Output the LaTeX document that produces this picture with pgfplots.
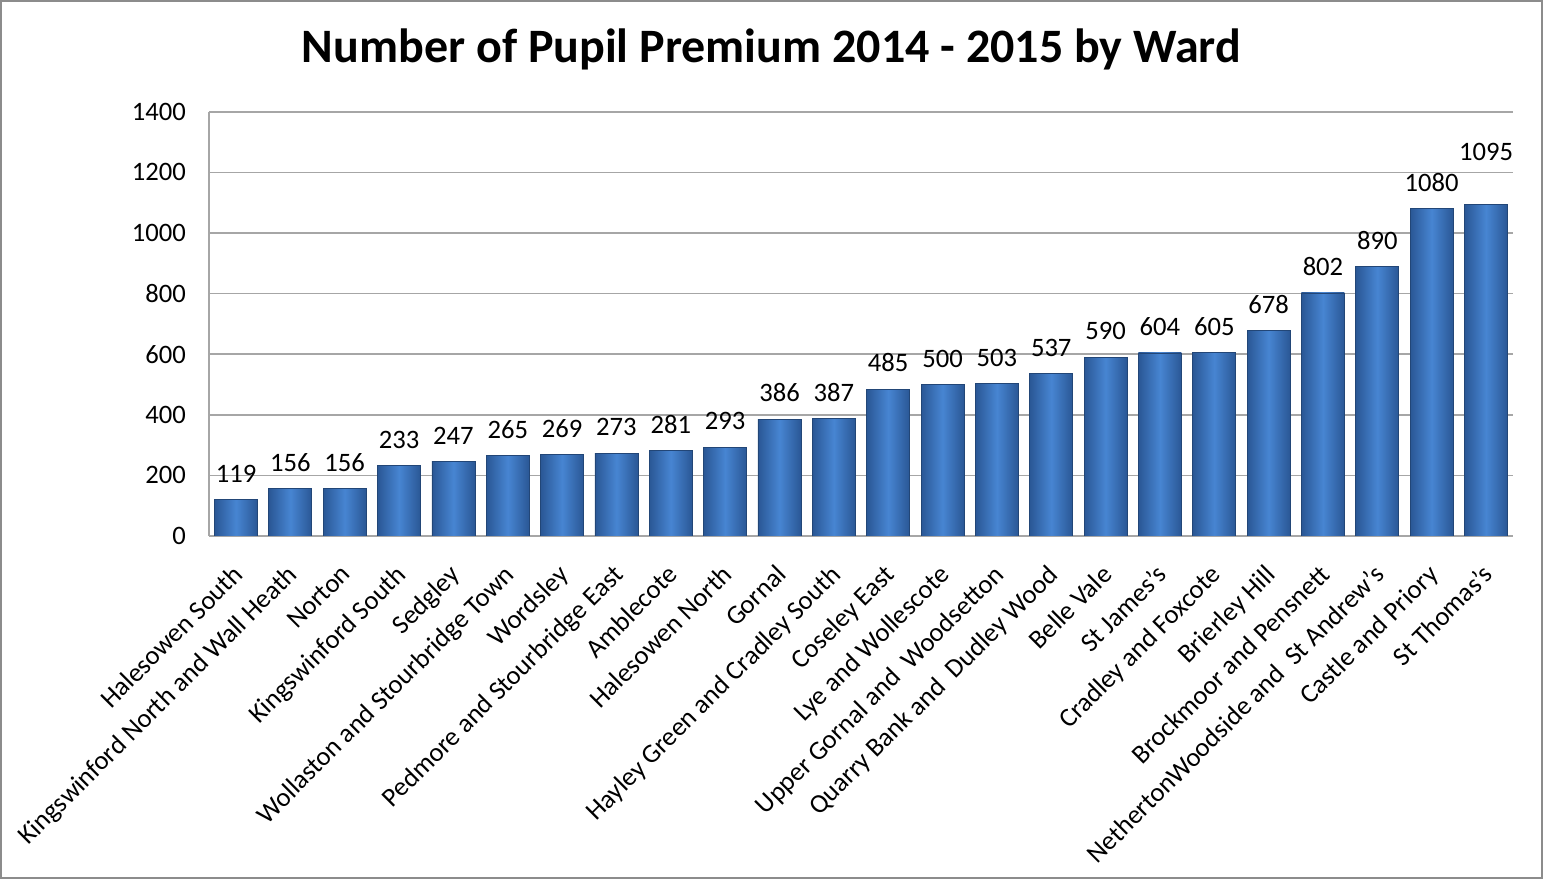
\documentclass[border=0pt]{standalone}
\usepackage{fontspec}
\setmainfont{Carlito}
\usepackage{pgfplots}
\pgfplotsset{compat=1.18}

\definecolor{barmid}{HTML}{4785D2}
\definecolor{baredge}{HTML}{2A5795}
\definecolor{gridgray}{HTML}{A6A6A6}
\definecolor{framegray}{HTML}{8C8C8C}

\newcommand{\lbl}{\fontsize{13.3}{15}\selectfont}
% one shaded bar per plot so each bar gets its own gradient
\newcommand{\onebar}[3][5pt]{\addplot[draw=baredge!80!black, line width=0.4pt,
  left color=baredge, right color=baredge, middle color=barmid,
  every node near coord/.append style={yshift=#1}] coordinates {(#2,#3)};}

\begin{document}
\begin{tikzpicture}
\begin{axis}[
  at={(0,0)}, anchor=south west,
  scale only axis,
  width=652pt, height=212pt,
  ymin=0, ymax=1400,
  xmin=-0.5, xmax=23.5,
  ytick={0,200,...,1400},
  xtick={0,...,23},
  xticklabels={
    Halesowen South,
    Kingswinford North and Wall Heath,
    Norton,
    Kingswinford South,
    Sedgley,
    Wollaston and Stourbridge Town,
    Wordsley,
    Pedmore and Stourbridge East,
    Amblecote,
    Halesowen North,
    Gornal,
    Hayley Green and Cradley South,
    Coseley East,
    Lye and Wollescote,
    Upper Gornal and\ \ Woodsetton,
    Quarry Bank and\ \ Dudley Wood,
    Belle Vale,
    St James's,
    Cradley and Foxcote,
    Brierley Hill,
    Brockmoor and Pensnett,
    NethertonWoodside and\ \ St Andrew's,
    Castle and Priory,
    St Thomas's},
  xticklabel style={xshift=-2.5pt, yshift=-12pt, rotate=45, anchor=north east, font=\lbl, inner sep=1pt},
  yticklabel style={font=\lbl, xshift=-8pt},
  /pgf/number format/assume math mode=true,
  /pgf/number format/1000 sep={},
  scaled y ticks=false,
  major tick length=0pt,
  axis x line*=bottom, axis y line*=left,
  axis line style={gridgray, line width=1pt, -},
  ymajorgrids,
  grid style={gridgray, line width=0.8pt},
  ybar, bar width=21.5pt, bar shift=0pt,
  nodes near coords,
  every node near coord/.append style={font=\lbl, black},
]
\onebar{0}{119}
\onebar{1}{156}
\onebar{2}{156}
\onebar{3}{233}
\onebar{4}{247}
\onebar{5}{265}
\onebar{6}{269}
\onebar{7}{273}
\onebar{8}{281}
\onebar{9}{293}
\onebar{10}{386}
\onebar{11}{387}
\onebar{12}{485}
\onebar{13}{500}
\onebar{14}{503}
\onebar{15}{537}
\onebar{16}{590}
\onebar{17}{604}
\onebar{18}{605}
\onebar{19}{678}
\onebar{20}{802}
\onebar{21}{890}
\onebar{22}{1080}
\onebar[18pt]{23}{1095}
\end{axis}
\node[font=\fontsize{24}{28}\selectfont\bfseries] at (281.25pt,243pt) {Number of Pupil Premium 2014 - 2015 by Ward};
\draw[framegray, line width=0.8pt] (-104pt,-171pt) rectangle (666.5pt,267.5pt);
\end{tikzpicture}
\end{document}
